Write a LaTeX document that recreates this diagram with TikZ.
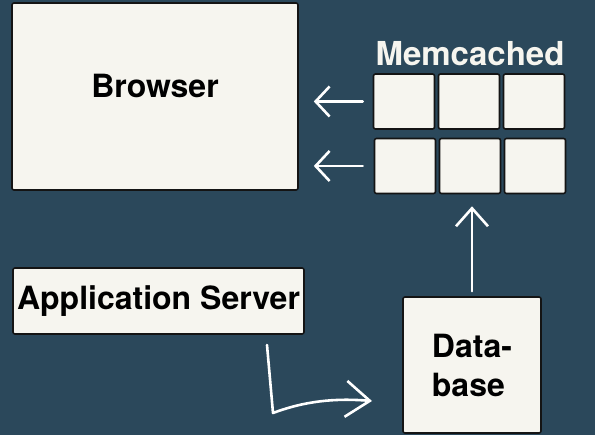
\documentclass[tikz,border=0pt]{standalone}
\usepackage{fontspec}
\setmainfont{TeX Gyre Heros}
\usetikzlibrary{arrows.meta}
\definecolor{bg}{RGB}{43,72,91}
\definecolor{boxfill}{RGB}{246,245,239}
\definecolor{boxline}{RGB}{20,20,20}
\tikzset{
  boxfont/.style={font=\fontsize{32}{37}\selectfont\bfseries},
  box/.style={draw=boxline, line width=1.6pt, fill=boxfill, rounded corners=2pt, inner sep=0pt, boxfont, text=black},
  cell/.style={box, minimum width=61pt, minimum height=55pt},
  arr/.style={draw=white, line width=2.6pt, line cap=round, line join=round, -{Straight Barb[length=14pt,width=30pt,line width=2.6pt]}},
  bigarr/.style={arr, -{Straight Barb[length=24pt,width=36pt,line width=2.6pt]}},
  uparr/.style={arr, -{Straight Barb[length=18pt,width=32pt,line width=2.6pt]}},
}
\begin{document}
\begin{tikzpicture}[x=1pt,y=-1pt]
\fill[bg] (0,0) rectangle (595,435);
\useasboundingbox (0,0) rectangle (595,435);
% Browser
\node[box, minimum width=286pt, minimum height=187pt, label={[yshift=11pt, boxfont]center:Browser}] (browser) at (155,96.5) {};
% Memcached
\node[text=boxfill, font=\fontsize{33}{37}\selectfont\bfseries] (memlabel) at (470,54) {Memcached};
\node[cell] (c11) at (404,101.5) {};
\node[cell] (c12) at (469,101.5) {};
\node[cell] (c13) at (534,101.5) {};
\node[cell] (c21) at (405,166) {};
\node[cell] (c22) at (470,166) {};
\node[cell] (c23) at (535,166) {};
% Application server
\node[box, minimum width=291pt, minimum height=66pt] (app) at (158.5,301) {Application Server};
% Database
\node[box, minimum width=138pt, minimum height=136pt, align=left] (db) at (472,365) {Data-\\[2pt]base};
% arrows
\draw[arr, shorten <=10pt, shorten >=15pt] (c11.west) -- (c11.west -| browser.east);
\draw[arr, shorten <=11pt, shorten >=15pt] (c21.west) -- (c21.west -| browser.east);
\draw[uparr, shorten <=5pt, shorten >=12pt] (db.north) -- (db.north |- c22.south);
\coordinate (appout) at (267,345);
\coordinate (bend) at (273,413);
\coordinate (dbin) at (372,401);
\draw[bigarr] (appout) -- (bend) .. controls (305,401) and (335,398) .. (dbin);
\end{tikzpicture}
\end{document}
